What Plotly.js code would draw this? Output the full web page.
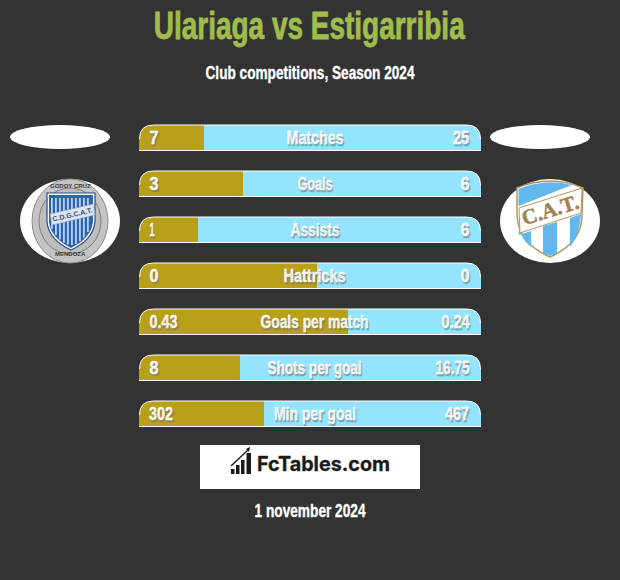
<!DOCTYPE html>
<html><head><meta charset="utf-8">
<script src="https://cdn.plot.ly/plotly-3.0.1.min.js"></script>
<style>html,body{margin:0;padding:0;background:#333}</style></head>
<body><div id="chart" style="width:620px;height:580px"></div>
<script>
const categories=["Matches","Goals","Assists","Hattricks","Goals per match","Shots per goal","Min per goal"];
const leftLabels=["7","3","1","0","0.43","8","302"];
const rightLabels=["25","6","6","0","0.24","16.75","467"];
const leftShare=[19,30.4,17.3,52,61,29.5,36.5];
const rightShare=[81,69.6,82.7,48,39,70.5,63.5];
const categoryWidths=[57,35,49,62,108,94,82];
const leftWidths=[9,9,5,9,28,9,24];
const rightWidths=[16,9,9,9,28,34,24];

const SANS='"Liberation Sans",sans-serif';
const DARK='#333333';
const shadow='1.5px 1.5px 1px rgba(110,110,110,0.55)';
const shapes=[];const ann=[];const squeeze=[];const heavy=[];
function S(path,fill,line,w){shapes.push({type:'path',xref:'x2',yref:'y2',path:path,fillcolor:fill||'rgba(0,0,0,0)',line:{color:line||'rgba(0,0,0,0)',width:w||0},layer:'above'});}
function E(x0,y0,x1,y1,fill,line,w){shapes.push({type:'circle',xref:'x2',yref:'y2',x0,y0,x1,y1,fillcolor:fill,line:{color:line||'rgba(0,0,0,0)',width:w||0}});}
function R(x0,y0,x1,y1,fill){shapes.push({type:'rect',xref:'x2',yref:'y2',x0,y0,x1,y1,fillcolor:fill,line:{width:0}});}
function T(text,x,y,size,color,width,opt){
  opt=opt||{};
  squeeze.push(width||0);heavy.push(opt.heavy||0);
  const font={family:opt.family||SANS,size,color,weight:700};
  if(opt.shadow)font.shadow=opt.shadow;
  ann.push({text,x,y,xref:'x2',yref:'y2',showarrow:false,xanchor:'center',yanchor:'middle',textangle:opt.angle||0,font});
}

categories.forEach((c,i)=>{
  const t=125+46*i,b=t+26,l=139.5,r=480.5,rad=14,cy=t+12.7;
  S(`M${l-1},${t-1} L${l+rad},${t-1} L${l+rad},${t} Q${l},${t} ${l},${t+rad} L${l-1},${t+rad} Z`,DARK);
  S(`M${r+1},${t-1} L${r-rad},${t-1} L${r-rad},${t} Q${r},${t} ${r},${t+rad} L${r+1},${t+rad} Z`,DARK);
  S(`M${l},${t+rad} Q${l},${t} ${l+rad},${t} L${r-rad},${t} Q${r},${t} ${r},${t+rad}`,null,'#ffffff',1);
  S(`M${l-.5},${b-.5} L${r+.5},${b-.5}`,null,'#ffffff',1);
  T(leftLabels[i],149+leftWidths[i]/2,cy,18,'#fff',leftWidths[i],{shadow,heavy:.35});
  T(rightLabels[i],469-rightWidths[i]/2,cy,18,'#fff',rightWidths[i],{shadow,heavy:.35});
  T(c,314.5,cy,18,'#fff',categoryWidths[i],{shadow,heavy:.35});
});

E(10,125,110,149,'#fff');E(490,125,590,149,'#fff');

// left crest
E(20,179,120,263,'#fff');
E(32,179,108,263,'#c4c4c4','#8a8a8a',1);
E(39,188,101,254,'#bdbdbd','#7f7f7f',1);
S('M47,193 L95,193 L95,222 Q93,240 71,250 Q49,240 47,222 Z','#ffffff','#2a4a86',1.2);
S('M49,195 L93,195 L93,222 Q91,238 71,248 Q51,238 49,222 Z','#2f62b5');
[51,55,59,63,67,71,75,79,83,87].forEach(x=>{const d=Math.abs(x+1-71);const y2=245-d*d*0.045;
  S(`M${x},198 L${x},${y2} L${x+1.8},${y2} L${x+1.8},198 Z`,'#b5d3f2');});
S('M50,214 L93,204 L95,215 L52,225 Z','#dfe5ee','#8b98ad',.5);
T('C.D.G.C.A.T.',72.5,214.5,7,'#2f4f90',0,{angle:-13});
T('GODOY CRUZ',70,185.5,6,'#3a3a3a');
T('MENDOZA',70,253.5,6,'#3a3a3a');

// right crest
E(500,179,600,263,'#fff');
S('M517,188 Q550,174 583,188 L582,215 Q582,243 550,257 Q518,243 517,215 Z','#ffffff','#b8965a',1.5);
S('M518.5,206 L518.5,189 Q545,178 572,185 Z','#62b8ec');
S('M518.5,235 L531,231 L531,247 Q522,240 519,228 Z','#62b8ec');
S('M543,226 L557,222 L557,253 L550,256 L543,253 Z','#62b8ec');
S('M570,218 L581,214 Q580,235 570,247 Z','#62b8ec');
S('M519,208 L582,188 L581,213 L520,233 Z','#ffffff','#b8965a',1);
T('C.A.T.',550,210,21,'#a0824e',0,{angle:-17,family:'"Liberation Serif",serif',heavy:.5});

// FcTables box
R(200,445,420,489,'#fff');
[[231,469,3.5],[236,465,3.5],[241,460,3.5],[246.5,453,4.5]].forEach(b=>R(b[0],b[1],b[0]+b[2],474,'#1a1a1a'));
S('M231,466 L248,450',null,'#1a1a1a',1.4);
S('M246,449 L250,447 L249,452 Z','#1a1a1a');
T('FcTables.com',323.5,464,20,'#1a1a1a',133,{family:'Inter,"Open Sans",sans-serif',heavy:.3});

T('Ulariaga vs Estigarribia',309.5,26,38,'#a0bc4b',311,{heavy:.8});
T('Club competitions, Season 2024',309.5,73,18,'#fff',209,{heavy:.35});
T('1 november 2024',309.5,510.5,18,'#fff',111,{heavy:.35});

const traces=[
 {type:'bar',orientation:'h',y:categories,x:leftShare,marker:{color:'#b8a019'},hoverinfo:'skip',showlegend:false},
 {type:'bar',orientation:'h',y:categories,x:rightShare,marker:{color:'#94e4ff'},hoverinfo:'skip',showlegend:false},
 {type:'scatter',x:[0,620],y:[0,580],xaxis:'x2',yaxis:'y2',mode:'none',hoverinfo:'skip',showlegend:false}
];
const layout={
 width:620,height:580,margin:{l:0,r:0,t:0,b:0},paper_bgcolor:DARK,plot_bgcolor:'rgba(0,0,0,0)',
 barmode:'stack',bargap:0.435,showlegend:false,
 xaxis:{domain:[139/620,481/620],range:[0,100],visible:false,fixedrange:true,anchor:'y'},
 yaxis:{domain:[1-437/580,1-115/580],type:'category',categoryorder:'array',categoryarray:categories,autorange:'reversed',visible:false,fixedrange:true,anchor:'x'},
 xaxis2:{domain:[0,1],range:[0,620],visible:false,fixedrange:true,anchor:'y2'},
 yaxis2:{domain:[0,1],range:[580,0],visible:false,fixedrange:true,anchor:'x2'},
 shapes:shapes,annotations:ann
};
Plotly.newPlot('chart',traces,layout,{displayModeBar:false,staticPlot:true}).then(gd=>{
  gd.querySelectorAll('.annotation').forEach(g=>{
    const i=+g.getAttribute('data-index');
    const el=g.querySelector('text');
    if(!el)return;
    if(squeeze[i]){el.setAttribute('textLength',squeeze[i]);el.setAttribute('lengthAdjust','spacingAndGlyphs');}
    if(heavy[i]){el.style.stroke=ann[i].font.color;el.style.strokeWidth=heavy[i]+'px';}
  });
});
</script></body></html>
